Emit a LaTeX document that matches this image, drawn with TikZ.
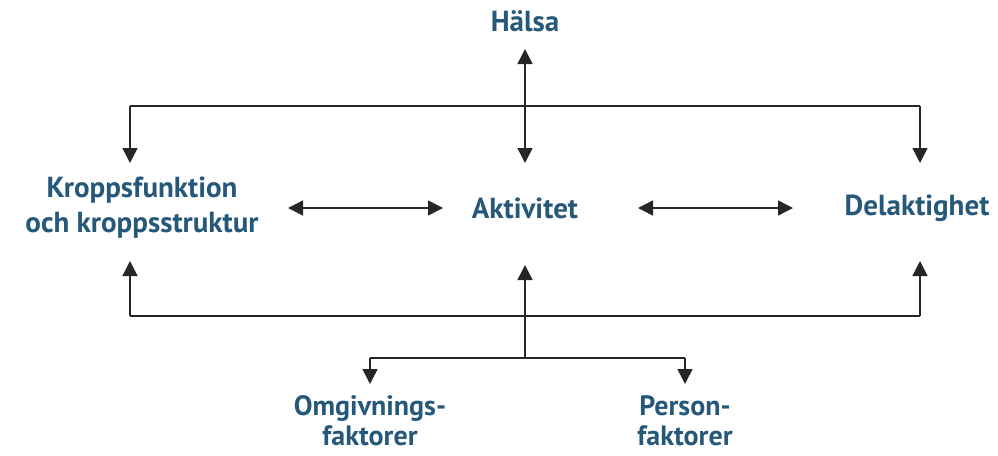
\documentclass[tikz,border=0pt]{standalone}
\usepackage{fontspec}
\setmainfont{PT Sans}
\usetikzlibrary{arrows.meta}
\definecolor{lbl}{RGB}{38,88,122}
\begin{document}
\begin{tikzpicture}[x=1pt,y=-1pt,
  lab/.style={font=\bfseries\fontsize{29}{35}\selectfont, text=lbl, align=center, inner sep=0pt},
  lab2/.style={lab, font=\bfseries\fontsize{28}{30}\selectfont},
  conn/.style={line width=1.5pt, draw=black!85},
  arr/.style={conn, -{Triangle[width=15pt,length=15pt]}},
  darr/.style={conn, {Triangle[width=15pt,length=15pt]}-{Triangle[width=15pt,length=15pt]}}]
\useasboundingbox (0,0) rectangle (998,455);
% labels
\node[lab] (halsa) at (525,21) {Hälsa};
\node[lab] (kropp) at (142,208) {Kroppsfunktion\\och kroppsstruktur};
\node[lab] (akt) at (525,208) {Aktivitet};
\node[lab] (del) at (917,208) {Delaktighet};
\node[lab2] (omg) at (370,421) {Omgivnings-\\faktorer};
\node[lab2] (pers) at (685,421) {Person-\\faktorer};
% coordinates
\coordinate (tH) at (525,49);
\coordinate (tA) at (525,163);
\coordinate (tL) at (130,163);
\coordinate (tR) at (920,163);
\coordinate (jL) at (130,106);
\coordinate (jR) at (920,106);
\coordinate (bL) at (130,261);
\coordinate (bR) at (920,261);
\coordinate (bA) at (525,265);
\coordinate (hL) at (130,316);
\coordinate (hR) at (920,316);
\coordinate (mid) at (525,358);
\coordinate (mL) at (370,358);
\coordinate (mR) at (685,358);
\coordinate (dL) at (370,384);
\coordinate (dR) at (685,384);
\coordinate (a1) at (288,208);
\coordinate (a2) at (443,208);
\coordinate (a3) at (638,208);
\coordinate (a4) at (793,208);
% top
\draw[darr] (tH) -- (tA);
\draw[conn] (jL) -- (jR);
\draw[arr] (jL) -- (tL);
\draw[arr] (jR) -- (tR);
% middle horizontals
\draw[darr] (a1) -- (a2);
\draw[darr] (a3) -- (a4);
% bottom
\draw[conn] (hL) -- (hR);
\draw[arr] (hL) -- (bL);
\draw[arr] (hR) -- (bR);
\draw[arr] (mid) -- (bA);
\draw[conn] (mL) -- (mR);
\draw[arr] (mL) -- (dL);
\draw[arr] (mR) -- (dR);
\end{tikzpicture}
\end{document}
